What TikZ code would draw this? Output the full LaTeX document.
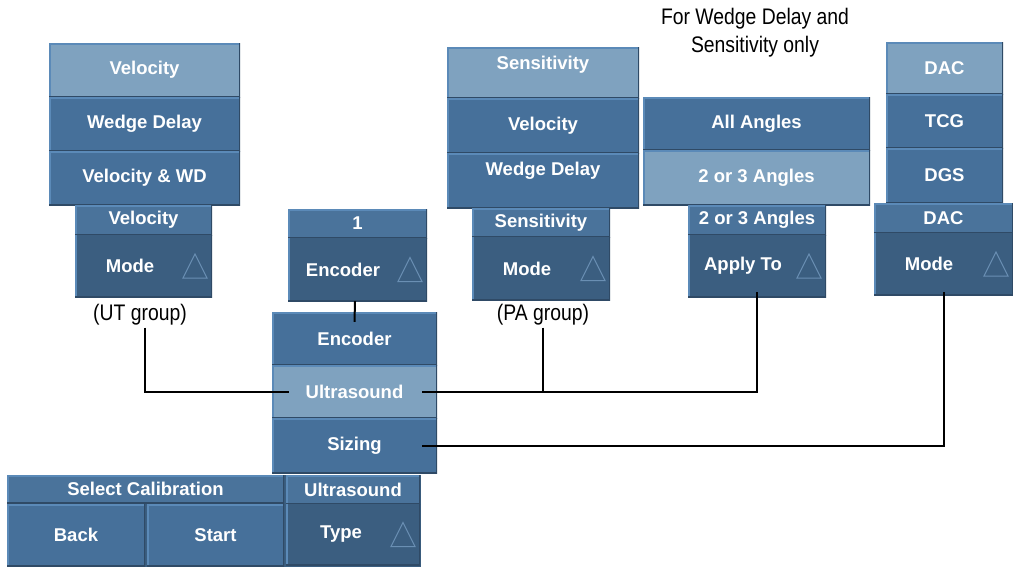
\documentclass[tikz,border=0pt]{standalone}
\usepackage{fontspec}
\setmainfont{Liberation Sans}
\newfontfamily\narrowfont[FakeStretch=0.86]{Liberation Sans}
\usetikzlibrary{calc}
\definecolor{btnlight}{HTML}{7FA2BF}
\definecolor{btnmid}{HTML}{46709A}
\definecolor{btnbody}{HTML}{3B5E80}
\definecolor{btnhdr}{HTML}{4A739B}
\definecolor{edgelight}{HTML}{5B8AB8}
\definecolor{edgedark}{HTML}{2F4A66}
\definecolor{tricol}{HTML}{6A8FB3}
\newcommand{\ctltext}[2]{\makebox[#2][l]{\makebox[110pt]{#1}}}
\begin{document}
\begin{tikzpicture}[x=1pt,y=-1pt,
  sz/.style 2 args={minimum width=#1, minimum height=#2},
  bevel/.style={path picture={
    \draw[edgelight,line width=3pt] (path picture bounding box.south west) -- (path picture bounding box.north west) -- (path picture bounding box.north east);
    \draw[edgedark,line width=3pt] (path picture bounding box.north east) -- (path picture bounding box.south east) -- (path picture bounding box.south west);}},
  btn/.style={rectangle, inner sep=0pt, text=white, font=\bfseries\fontsize{18.5}{20}\selectfont, fill=btnmid, bevel},
  btnhi/.style={btn, fill=btnlight},
  ctlhdr/.style={btn, fill=btnhdr},
  ctlbody/.style={rectangle, inner sep=0pt, text=white, font=\bfseries\fontsize{18.5}{20}\selectfont, fill=btnbody,
    path picture={
    \draw[edgelight,line width=3pt] (path picture bounding box.south west) -- (path picture bounding box.north west);
    \draw[edgedark,line width=3pt] (path picture bounding box.north east) -- (path picture bounding box.south east) -- (path picture bounding box.south west);
    \draw[tricol,line width=1pt] ($(path picture bounding box.east)+(-29,12)$) -- ($(path picture bounding box.east)+(-17,-12)$) -- ($(path picture bounding box.east)+(-5,12)$) -- cycle;}},
  note/.style={text=black, font=\narrowfont\fontsize{22.5}{28}\selectfont, align=center, inner sep=2pt},
  conn/.style={draw=black, line width=2pt}
]
\useasboundingbox[fill=white] (0,0) rectangle (1013,568);

% ---- UT group
\node[btnhi, sz={191}{54}] (utvel) at (144.5,70) {Velocity};
\node[btn, sz={191}{54}] (utwd) at (144.5,124) {Wedge Delay};
\node[btn, sz={191}{54}] (utvwd) at (144.5,178) {Velocity \& WD};
\node[ctlhdr, sz={137}{30}] (uthdr) at (143.5,220) {Velocity};
\node[ctlbody, sz={137}{62}] (utbody) at (143.5,266) {\ctltext{Mode}{137pt}};
\node[note] (utlab) at (140,315) {(UT group)};

% ---- Encoder control
\node[ctlhdr, sz={139}{29}] (enchdr) at (357.5,223.5) {1};
\node[ctlbody, sz={139}{63}] (encbody) at (357.5,269.5) {\ctltext{Encoder}{139pt}};

% ---- middle menu
\node[btn, sz={165}{53}] (enc) at (354.5,338.5) {Encoder};
\node[btnhi, sz={165}{53}] (us) at (354.5,391.5) {Ultrasound};
\node[btn, sz={165}{55}] (siz) at (354.5,445.5) {Sizing};

% ---- bottom panel
\fill[btnbody] (7,475) rectangle (421,567);
\node[ctlhdr, sz={277}{28}] (selcal) at (145.5,489) {Select Calibration};
\node[btn, sz={138}{62}] (back) at (76,535) {Back};
\node[btn, sz={137}{62}] (start) at (215.5,535) {Start};
\node[ctlhdr, sz={134}{29}] (ushdr) at (353,489.5) {Ultrasound};
\node[ctlbody, sz={134}{61}] (typebody) at (353,534.5) {\ctltext{Type}{134pt}};

% ---- PA group
\node[btnhi, sz={192}{51}, text depth=20pt] (pasens) at (543,72.5) {Sensitivity};
\node[btn, sz={192}{55}] (pavel) at (543,125.5) {Velocity};
\node[btn, sz={192}{55}, text depth=24pt] (pawd) at (543,180.5) {Wedge Delay};
\node[ctlhdr, sz={138}{29}] (pahdr) at (541,222.5) {Sensitivity};
\node[ctlbody, sz={138}{63}] (pabody) at (541,268.5) {\ctltext{Mode}{138pt}};
\node[note] (palab) at (543,315) {(PA group)};

% ---- Apply To group
\node[note] (atnote) at (755,33) {For Wedge Delay and\\Sensitivity only};
\node[btn, sz={227}{53}] (allang) at (756.5,123.5) {All Angles};
\node[btnhi, sz={227}{55}] (twothree) at (756.5,177.5) {2 or 3 Angles};
\node[ctlhdr, sz={138}{30}] (athdr) at (757,220) {2 or 3 Angles};
\node[ctlbody, sz={138}{62}] (atbody) at (757,266) {\ctltext{Apply To}{138pt}};

% ---- DAC group
\node[btnhi, sz={117}{52}] (dac) at (944.5,68) {DAC};
\node[btn, sz={117}{54}] (tcg) at (944.5,121) {TCG};
\node[btn, sz={117}{55}] (dgs) at (944.5,175.5) {DGS};
\node[ctlhdr, sz={139}{30}] (dachdr) at (943.5,218) {DAC};
\node[ctlbody, sz={139}{62}] (dacbody) at (943.5,264) {\ctltext{Mode}{139pt}};

% ---- connectors
\draw[conn] ([xshift=-2.5pt]encbody.south) -- ([yshift=-10pt]enc.north);
\draw[conn] ([xshift=5pt]utlab.south) |- ([xshift=17pt]us.west);
\draw[conn] (palab.south) -- (palab.south |- us.east);
\draw[conn] ([xshift=-15pt]us.east) -| ([yshift=5pt]atbody.south);
\draw[conn] ([xshift=-15pt]siz.east) -| ([yshift=3pt]dacbody.south);
\end{tikzpicture}
\end{document}
